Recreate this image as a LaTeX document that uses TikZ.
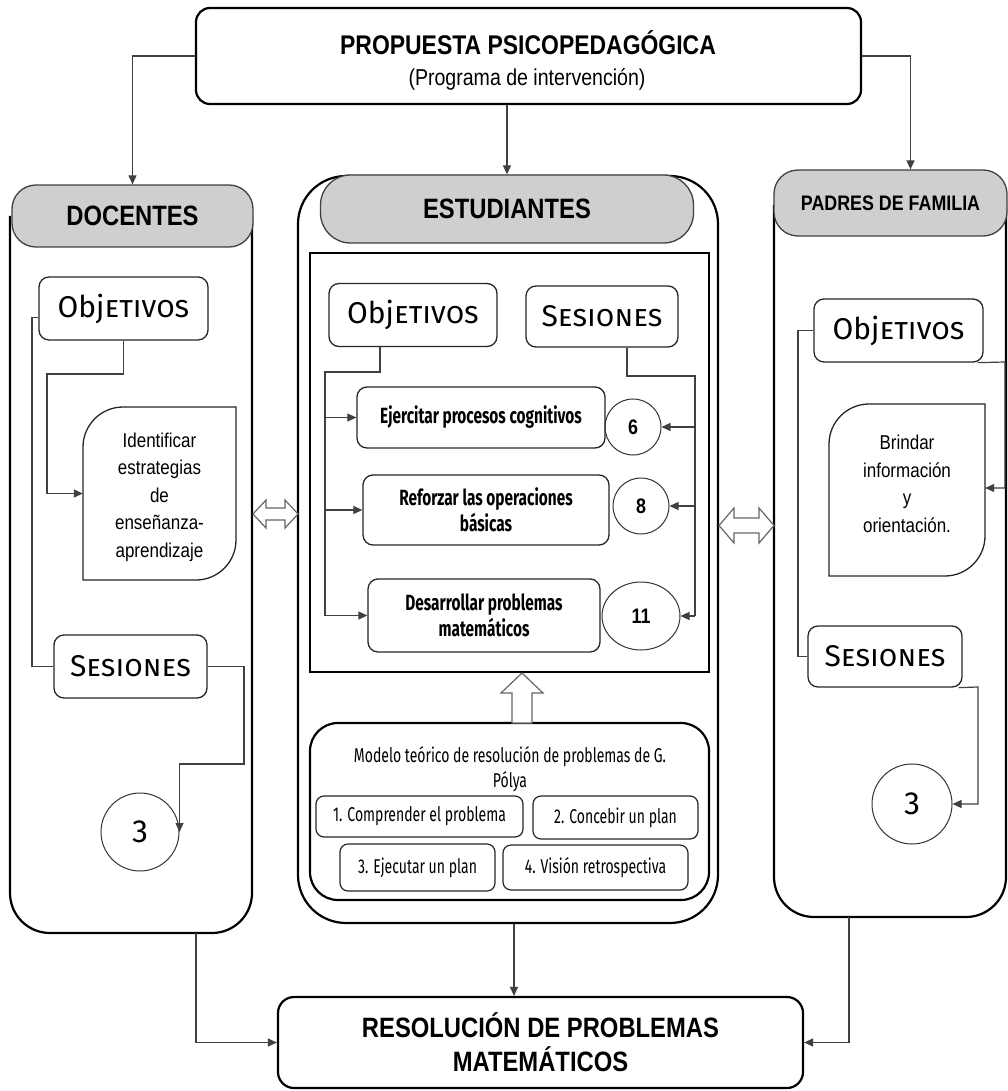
\documentclass[tikz,border=0pt]{standalone}
\usepackage{fontspec}
\setmainfont{Liberation Sans}
\newfontfamily\narrowfont[FakeStretch=0.85]{Liberation Sans}
\newfontfamily\scfont{Fira Sans}
\newfontfamily\condfont[FakeStretch=0.7]{Fira Sans}
\usetikzlibrary{arrows.meta,calc,shapes.geometric}
\definecolor{headgray}{HTML}{D0CECE}
\definecolor{linegray}{HTML}{404040}
\newcommand\myfs[2]{\fontsize{#1}{#2}\selectfont}
\newcommand\objfont{\scfont\myfs{30}{34}}
\newcommand\boxtxt{\condfont\bfseries\myfs{22}{26.5}}
\newcommand\modtxt{\condfont\myfs{20}{25}}
\newcommand\idtxt{\narrowfont\myfs{20}{27.5}}
\newcommand\objword{{\objfont Obj\scshape etivos}}
\newcommand\sesword{{\objfont S\scshape esiones}}
\begin{document}
\begin{tikzpicture}[x=1pt,y=-1pt,
  conn/.style={draw=linegray, line width=1.2pt},
  arr/.style={conn, -{Triangle[length=9pt,width=8pt]}},
  ibox/.style={draw=black!85, line width=1.3pt, rounded corners=10pt, inner sep=0pt, align=center},
  sbox/.style={draw=black!85, line width=1.2pt, rounded corners=8pt, inner sep=0pt, font=\modtxt},
  circ/.style={circle, draw=black!80, line width=1pt, inner sep=0pt},
  headbox/.style={draw=black!75, line width=1.3pt, fill=headgray, rounded corners=24pt, inner sep=0pt, font=\narrowfont\bfseries\myfs{28}{32}},
  bigbox/.style={draw=black, line width=2.2pt, inner sep=0pt},
  outerline/.style={draw=black, line width=2.2pt},
  hollow/.style={draw=black!60, line width=1.2pt, fill=white, line join=miter},
  shapeline/.style={draw=black!85, line width=1.3pt},
  plain/.style={inner sep=0pt, align=center}
]
\fill[white] (0,0) rectangle (1008,1091);
\useasboundingbox (0,0) rectangle (1008,1091);

% ---------- top box
\node[bigbox, rounded corners=14pt, minimum width=665, minimum height=96] (top) at (528.5,56) {};
\node[plain] (toptitle) at (528,43) {\narrowfont\bfseries\myfs{27}{30}PROPUESTA PSICOPEDAGÓGICA};
\node[plain] (topsub) at (527,79) {\narrowfont\myfs{23}{26}(Programa de intervención)};

% ---------- outer columns
\draw[outerline] (10,216) -- (10,893) .. controls (10,915.1) and (27.9,933) .. (50,933)
  -- (212,933) .. controls (234.1,933) and (252,915.1) .. (252,893) -- (252,216);
\node[bigbox, rounded corners=48pt, minimum width=420, minimum height=747] (estout) at (508,549.5) {};
\draw[outerline] (774,205) -- (774,877) .. controls (774,899.1) and (791.9,917) .. (814,917)
  -- (966,917) .. controls (988.1,917) and (1006,899.1) .. (1006,877) -- (1006,205);
\coordinate (docB) at (196,933);
\coordinate (padB) at (849,917);

% headers
\node[headbox, minimum width=241, minimum height=62] (dochead) at (132.5,216) {DOCENTES};
\node[headbox, rounded corners=30pt, minimum width=373, minimum height=68] (esthead) at (507,209) {ESTUDIANTES};
\node[headbox, font=\narrowfont\bfseries\myfs{21}{24}, minimum width=233, minimum height=66] (padhead) at (890.5,203) {PADRES DE FAMILIA};

% top connectors
\draw[arr] (top.west) -| (dochead.north);
\draw[arr] (esthead.north |- top.south) -- (esthead.north);
\draw[arr] (top.east) -| ([xshift=20pt]padhead.north);

% ---------- DOCENTES
\node[ibox, minimum width=169, minimum height=63] (dobj) at (123.5,308.5) {\objword};
\node[plain, font=\idtxt, minimum width=153, minimum height=173] (ident) at (159.5,497)
  {Identificar\\estrategias\\de\\enseñanza-\\aprendizaje};
\draw[shapeline] (123,407) -- (236,407) -- (236,540) .. controls (236,562) and (218,580) .. (196,580)
  -- (83,580) -- (83,447) .. controls (83,425) and (101,407) .. (123,407) -- cycle;
\node[ibox, minimum width=153, minimum height=63] (dses) at (130.5,666.5) {\sesword};
\node[circ, minimum size=78] (dcirc) at (140,832) {\scfont\myfs{32}{34}3};
\coordinate (dbus) at (47,374);
\coordinate (dlbus) at (32,374);
\coordinate (drbus) at (244,764);
\draw[arr] (dobj.south) |- (dbus) |- ([yshift=3.5pt]ident.west);
\draw[conn] ([yshift=-9pt]dobj.west) -- ([yshift=-9pt]dobj.west -| dlbus) |- (dses.west);
\draw[arr] (dses.east) -| (drbus) -| (dcirc.east);

% ---------- ESTUDIANTES
\node[bigbox, line width=2.5pt, minimum width=399, minimum height=419] (inner) at (509.5,462.5) {};
\node[ibox, minimum width=168, minimum height=63] (eobj) at (413,315) {\objword};
\node[ibox, minimum width=152, minimum height=61] (eses) at (602,316.5) {\sesword};
\node[ibox, font=\boxtxt, minimum width=248, minimum height=61] (ejer) at (481,417.5) {Ejercitar procesos cognitivos};
\node[ibox, font=\boxtxt, minimum width=246, minimum height=70] (refo) at (486,510) {Reforzar las operaciones\\básicas};
\node[ibox, font=\boxtxt, minimum width=232, minimum height=73] (desa) at (484,615.5) {Desarrollar problemas\\matemáticos};
\node[circ, minimum size=56] (c6) at (633,427) {\narrowfont\bfseries\myfs{21}{24}6};
\node[circ, minimum size=56] (c8) at (641,506) {\narrowfont\bfseries\myfs{21}{24}8};
\node[ellipse, draw=black!80, line width=1pt, inner sep=0pt, minimum width=78, minimum height=68] (c11) at (641,616) {\narrowfont\bfseries\myfs{21}{24}11};
\coordinate (lbus) at (325,372);
\coordinate (rbus) at (695,376);
\draw[conn] ([xshift=-33pt]eobj.south) |- (lbus) -- (lbus |- desa.west);
\draw[arr] (ejer.west -| lbus) -- (ejer.west);
\draw[arr] (refo.west -| lbus) -- (refo.west);
\draw[arr] (desa.west -| lbus) -- (desa.west);
\draw[conn] ([xshift=25pt]eses.south) |- (rbus) -- (rbus |- c11.east);
\draw[arr] (c6.east -| rbus) -- (c6.east);
\draw[arr] (c8.east -| rbus) -- (c8.east);
\draw[arr] (c11.east -| rbus) -- (c11.east);

% Polya model
\node[bigbox, rounded corners=28pt, minimum width=399, minimum height=177] (modelo) at (509.5,811.5) {};
\node[plain, font=\modtxt] (modt1) at (510,757) {Modelo teórico de resolución de problemas de G.};
\node[plain, font=\modtxt] (modt2) at (510,782) {Pólya};
\node[sbox, minimum width=207, minimum height=41] (b1) at (419.5,816.5) {1. Comprender el problema};
\node[sbox, minimum width=165, minimum height=43] (b2) at (615.5,817.5) {2. Concebir un plan};
\node[sbox, minimum width=155, minimum height=47] (b3) at (417.5,867.5) {3. Ejecutar un plan};
\node[sbox, minimum width=185, minimum height=45] (b4) at (595.5,867.5) {4. Visión retrospectiva};
% hollow up arrow
\draw[hollow] (522,673) -- (543,693) -- (532,693) -- (532,723) -- (512,723) -- (512,693) -- (501,693) -- cycle;

% ---------- PADRES
\node[ibox, minimum width=169, minimum height=63] (pobj) at (898.5,330.5) {\objword};
\node[plain, font=\idtxt, minimum width=156, minimum height=172] (brin) at (907,484)
  {Brindar\\información\\y\\orientación.};
\draw[shapeline] (869,404) -- (985,404) -- (985,536) .. controls (985,558) and (967,576) .. (945,576)
  -- (829,576) -- (829,444) .. controls (829,422) and (847,404) .. (869,404) -- cycle;
\node[ibox, minimum width=154, minimum height=61] (pses) at (885,656.5) {\sesword};
\node[circ, minimum size=80] (pcirc) at (912,804) {\scfont\myfs{32}{34}3};
\coordinate (pbus) at (1005,362);
\coordinate (plbus) at (798,333);
\coordinate (prbus) at (978,687);
\draw[arr] ([xshift=-6pt]pobj.south east) -- (pbus) |- ([yshift=-4pt]brin.east);
\draw[conn] (pobj.west) -- (pobj.west -| plbus) |- (pses.west);
\draw[arr] ([xshift=-4pt]pses.south east) -- (prbus) |- (pcirc.east);

% ---------- double hollow arrows
\draw[hollow] (253,514) -- (266,500) -- (266,508) -- (285,508) -- (285,500) -- (298,514)
  -- (285,528) -- (285,520) -- (266,520) -- (266,528) -- cycle;
\draw[hollow] (719,525.5) -- (734,508) -- (734,518) -- (759,518) -- (759,508) -- (774,525.5)
  -- (759,543) -- (759,533) -- (734,533) -- (734,543) -- cycle;

% ---------- result
\node[bigbox, rounded corners=16pt, minimum width=525, minimum height=91, align=center,
  font=\narrowfont\bfseries\myfs{28}{34}] (res) at (540.5,1042.5) {RESOLUCIÓN DE PROBLEMAS\\MATEMÁTICOS};
\draw[arr] ([xshift=6pt]estout.south) -- ([xshift=6pt]estout.south |- res.north);
\draw[arr] (docB) |- (res.west);
\draw[arr] (padB) |- (res.east);
\end{tikzpicture}
\end{document}
